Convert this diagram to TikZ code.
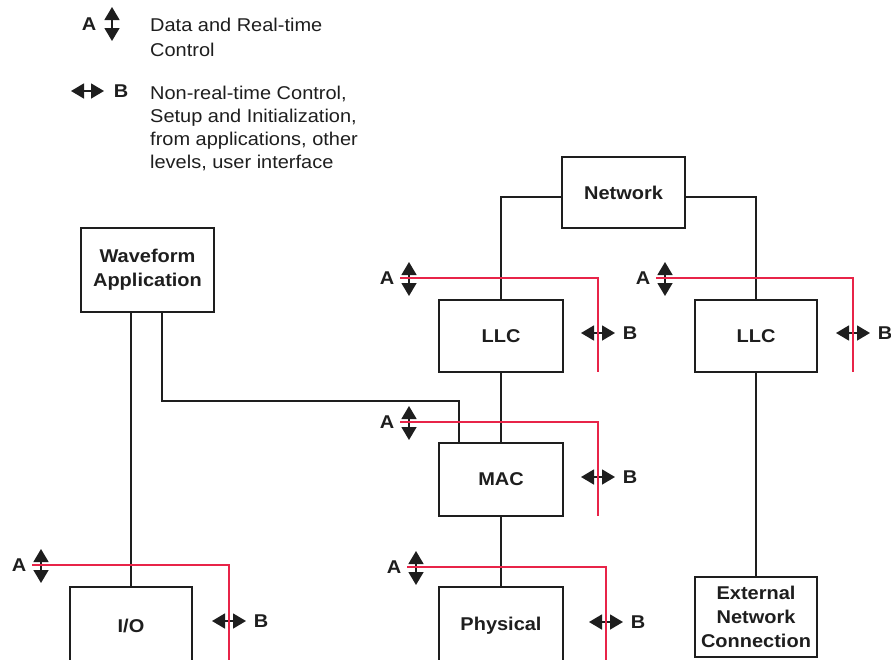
\documentclass[tikz,border=0pt]{standalone}
\usepackage{fontspec}
\setmainfont[FakeStretch=1.08]{Liberation Sans}
\usetikzlibrary{arrows.meta}
\definecolor{ctlred}{RGB}{232,36,72}
\definecolor{ink}{RGB}{30,30,30}

% red control path with its A (real-time) and B (non-real-time) markers
% #1 name, #2 start x, #3 path y, #4 corner x, #5 end y, #6 y of the B arrow
\newcommand\ctlpair[6]{%
  \draw[dblarrow] ({#2+9},{#3-16}) -- ({#2+9},{#3+18});
  \node[tag] (#1-A) at ({#2-13},#3) {A};
  \draw[dblarrow] ({#4-17},#6) -- ({#4+17},#6);
  \node[tag] (#1-B) at ({#4+32},#6) {B};
  \coordinate (#1-s) at (#2,#3);
  \coordinate (#1-e) at (#4,#5);
  \draw[redwire] (#1-s) -| (#1-e);
}

\begin{document}
\begin{tikzpicture}[x=1pt,y=-1pt,
  block/.style={draw=ink, line width=1.6pt, rectangle, inner sep=0pt,
    font=\fontsize{18.5}{24}\selectfont\bfseries, text=ink, align=center},
  wire/.style={draw=ink, line width=1.6pt},
  redwire/.style={draw=ctlred, line width=1.5pt},
  dblarrow/.style={line width=1.5pt, draw=ink,
    {Triangle[width=15pt,length=13pt]}-{Triangle[width=15pt,length=13pt]}},
  tag/.style={font=\fontsize{18.5}{22}\selectfont\bfseries, text=ink, inner sep=0pt},
  legend/.style={font=\fontsize{18.5}{23}\selectfont, text=ink, anchor=base west, inner sep=0pt}
]
\clip (0,0) rectangle (891,659);

% legend
\draw[dblarrow] (112,7) -- (112,41);
\node[tag] (legA) at (89,24) {A};
\node[legend] (legA1) at (150,31) {Data and Real-time};
\node[legend] (legA2) at (150,56.5) {Control};
\draw[dblarrow] (71,91) -- (104,91);
\node[tag] (legB) at (121,91) {B};
\node[legend] (legB1) at (150,99) {Non-real-time Control,};
\node[legend] (legB2) at (150,122) {Setup and Initialization,};
\node[legend] (legB3) at (150,145.5) {from applications, other};
\node[legend] (legB4) at (150,168.5) {levels, user interface};

% blocks
\node[block, minimum width=133pt, minimum height=84pt] (wave) at (147.5,270) {Waveform\\Application};
\node[block, minimum width=123pt, minimum height=71pt] (net) at (623.5,192.5) {Network};
\node[block, minimum width=124pt, minimum height=72pt] (llcA) at (501,336) {LLC};
\node[block, minimum width=122pt, minimum height=72pt] (llcB) at (756,336) {LLC};
\node[block, minimum width=124pt, minimum height=73pt] (mac) at (501,479.5) {MAC};
\node[block, minimum width=122pt, minimum height=78pt] (io) at (131,626) {I/O};
\node[block, minimum width=124pt, minimum height=78pt] (phys) at (501,626) {Physical};
\node[block, minimum width=122pt, minimum height=80pt] (ext) at (756,617) {External\\Network\\Connection};

% connections
\draw[wire] ([yshift=-4.5pt]net.west) -| (llcA.north);
\draw[wire] ([yshift=-4.5pt]net.east) -| (llcB.north);
\draw[wire] (llcA.south) -- (mac.north);
\draw[wire] (mac.south) -- (phys.north);
\draw[wire] (llcB.south) -- (ext.north);
\draw[wire] (wave.south -| io.north) -- (io.north);
\coordinate (macin) at ([xshift=-42pt]mac.north);
\draw[wire] ([xshift=14.5pt]wave.south) |- ([yshift=41pt]macin) -- (macin);

% control paths
\ctlpair{llcA}{400}{278}{598}{372}{333}
\ctlpair{llcB}{656}{278}{853}{372}{333}
\ctlpair{mac}{400}{422}{598}{516}{477}
\ctlpair{io}{32}{565}{229}{670}{621}
\ctlpair{phys}{407}{567}{606}{670}{622}
\end{tikzpicture}
\end{document}
